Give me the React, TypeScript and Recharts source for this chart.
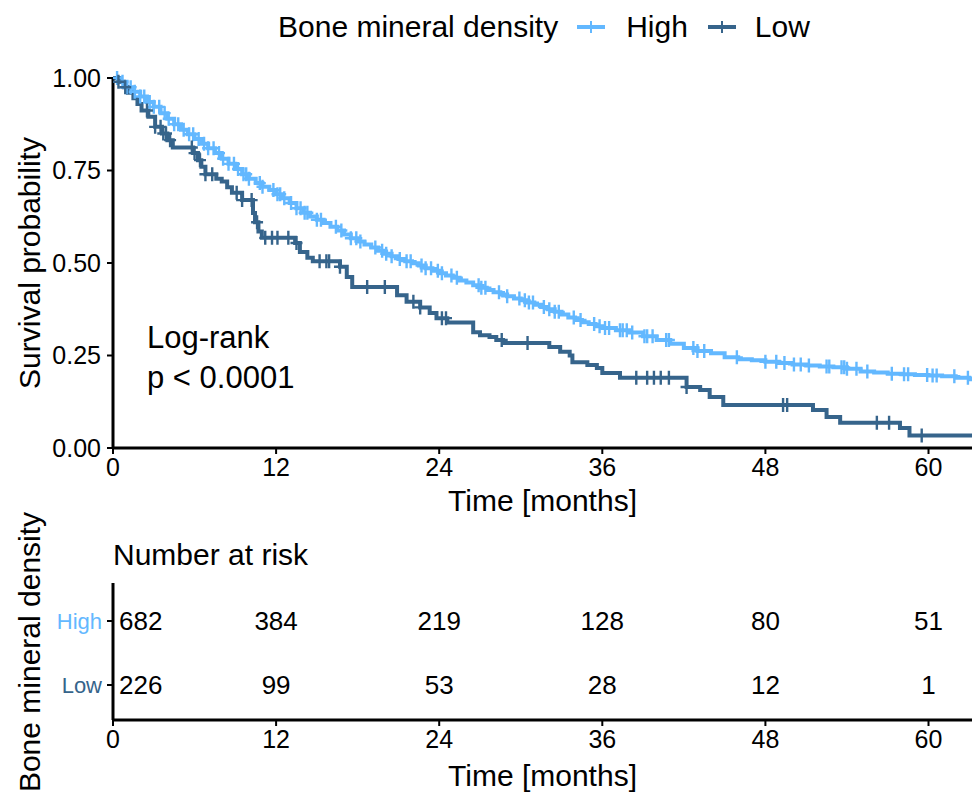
import React from 'react'
import { ComposedChart, Line, Scatter, XAxis, YAxis, Label } from 'recharts'

const HIGH_COLOR = '#63B8FF'
const LOW_COLOR = '#36648B'
const FONT = '"Liberation Sans", Arial, Helvetica, sans-serif'

const groups = ['High', 'Low']
const xTicks = [0, 12, 24, 36, 48, 60]
const yTicks = [0, 0.25, 0.5, 0.75, 1]
const X_MAX = 63.2

// Kaplan-Meier steps (months, survival)
const highTime = [
  0, 0.5, 1, 1.5, 2, 2.5, 3, 3.5, 4, 4.5, 5, 5.5, 6, 6.5, 7, 7.5, 8, 8.5, 9, 9.5,
  10, 10.5, 11, 11.5, 12, 12.5, 13, 13.5, 14, 14.5, 15, 15.5, 16, 16.5, 17, 17.5,
  18, 18.5, 19, 19.5, 20, 20.5, 21, 21.5, 22, 22.5, 23, 23.5, 24, 24.5, 25, 25.5,
  26, 26.5, 27, 27.5, 28, 28.5, 29, 29.5, 30, 30.5, 31, 31.5, 32, 32.5, 33, 33.5,
  34, 34.5, 35, 35.5, 36, 37, 38, 39, 40, 41, 42, 43, 44, 45, 46, 47, 48, 49, 50,
  51, 52, 53, 54, 55, 56, 57, 58, 59, 60, 61, 62, 63, 63.2,
]
const highSurv = [
  1.0, 0.99, 0.975, 0.963, 0.95, 0.935, 0.922, 0.905, 0.89, 0.875, 0.86, 0.848,
  0.835, 0.822, 0.81, 0.797, 0.782, 0.768, 0.754, 0.74, 0.728, 0.716, 0.706, 0.697,
  0.686, 0.675, 0.662, 0.648, 0.636, 0.626, 0.617, 0.608, 0.598, 0.588, 0.577,
  0.567, 0.558, 0.55, 0.542, 0.533, 0.525, 0.518, 0.511, 0.505, 0.499, 0.493,
  0.486, 0.479, 0.472, 0.466, 0.46, 0.453, 0.447, 0.44, 0.433, 0.427, 0.421, 0.415,
  0.41, 0.404, 0.399, 0.393, 0.387, 0.381, 0.375, 0.368, 0.361, 0.353, 0.346, 0.34,
  0.335, 0.329, 0.324, 0.318, 0.312, 0.302, 0.292, 0.282, 0.27, 0.262, 0.256,
  0.245, 0.24, 0.237, 0.233, 0.23, 0.226, 0.223, 0.22, 0.218, 0.214, 0.207, 0.204,
  0.201, 0.199, 0.197, 0.196, 0.194, 0.19, 0.186, 0.186,
]
const lowTime = [
  0, 0.4, 0.8, 1.1, 1.5, 1.8, 2.1, 2.6, 3.1, 3.6, 4.0, 4.4, 5.9, 6.25, 6.5, 6.8,
  7.6, 8.0, 8.4, 8.75, 9.5, 10.3, 10.45, 10.7, 10.95, 13.4, 13.75, 14.3, 14.7,
  16.7, 17.2, 17.6, 20.9, 21.6, 22.6, 23.3, 23.8, 24.6, 26.5, 27.0, 27.7, 28.2,
  28.7, 32.1, 32.9, 33.6, 33.8, 34.9, 35.6, 36.0, 37.3, 42.2, 43.2, 43.9, 44.9,
  51.5, 52.5, 53.5, 57.9, 58.6, 63.2,
]
const lowSurv = [
  1.0, 0.99, 0.975, 0.96, 0.945, 0.93, 0.912, 0.895, 0.868, 0.85, 0.832, 0.812,
  0.797, 0.778, 0.76, 0.74, 0.728, 0.72, 0.705, 0.69, 0.67, 0.635, 0.61, 0.585,
  0.568, 0.554, 0.53, 0.514, 0.505, 0.49, 0.462, 0.435, 0.413, 0.395, 0.38, 0.365,
  0.351, 0.339, 0.313, 0.305, 0.3, 0.292, 0.284, 0.273, 0.26, 0.25, 0.232, 0.224,
  0.216, 0.203, 0.19, 0.165, 0.157, 0.138, 0.116, 0.103, 0.084, 0.068, 0.054,
  0.034, 0.034,
]

// censoring times
const highCensor = [
  0.3, 0.7, 1.0, 1.3, 1.6, 2.0, 2.3, 2.7, 3.0, 3.4, 3.8, 4.1, 4.5, 4.8, 5.2, 5.6,
  5.9, 6.3, 6.7, 7.0, 7.4, 7.8, 8.1, 8.5, 8.9, 9.2, 9.6, 9.8, 10.0, 10.8, 11.0,
  11.8, 12.1, 12.3, 12.6, 13.1, 13.5, 13.8, 14.1, 14.3, 15.0, 15.3, 16.4, 16.8,
  17.5, 17.9, 18.2, 19.3, 19.8, 20.1, 20.5, 21.1, 21.6, 21.9, 22.7, 23.0, 23.4,
  23.9, 24.2, 24.9, 25.3, 26.9, 27.1, 27.4, 28.4, 29.0, 29.9, 30.3, 30.6, 30.9,
  31.7, 32.1, 32.5, 32.8, 33.9, 34.4, 35.4, 35.8, 36.2, 36.5, 37.3, 37.5, 37.8,
  38.2, 39.1, 39.3, 39.7, 40.7, 40.9, 42.7, 43.0, 43.5, 45.9, 48.0, 48.8, 49.4,
  50.1, 50.6, 51.2, 52.5, 52.7, 53.6, 53.8, 54.0, 54.7, 55.5, 57.3, 58.2, 58.5,
  59.9, 60.3, 60.6, 61.9, 62.9,
]
const lowCensor = [
  0.4, 0.9, 2.5, 3.1, 3.5, 3.7, 3.9, 4.2, 5.8, 6.0, 6.4, 6.8, 7.3, 9.1, 9.5, 10.2,
  10.6, 11.2, 11.7, 12.1, 12.9, 13.5, 15.2, 15.7, 15.9, 16.7, 18.7, 20.0, 22.1,
  22.6, 24.2, 24.5, 28.6, 30.5, 38.5, 39.3, 39.8, 40.3, 40.9, 42.2, 49.3, 49.6,
  56.2, 57.1, 59.5,
]

// number at risk table
const riskTimes = [0, 12, 24, 36, 48, 60]
const riskHigh = [682, 384, 219, 128, 80, 51]
const riskLow = [226, 99, 53, 28, 12, 1]

const toRows = (ts: number[], ss: number[]) => ts.map((t, i) => ({ t, s: ss[i] }))

// survival value of the step curve at time c
function stepAt(ts: number[], ss: number[], c: number) {
  let v = ss[0]
  for (let i = 0; i < ts.length; i++) if (ts[i] <= c) v = ss[i]
  return v
}

const highRows = toRows(highTime, highSurv)
const lowRows = toRows(lowTime, lowSurv)
const highCensorRows = highCensor.map((t) => ({ t, s: stepAt(highTime, highSurv, t) }))
const lowCensorRows = lowCensor.map((t) => ({ t, s: stepAt(lowTime, lowSurv, t) }))

const riskRows = [
  ...riskTimes.map((t, i) => ({ t, strata: groups[0], n: riskHigh[i] })),
  ...riskTimes.map((t, i) => ({ t, strata: groups[1], n: riskLow[i] })),
]

const PLOT_LEFT = 113
const PLOT_RIGHT = 972
const PLOT_MID = (PLOT_LEFT + PLOT_RIGHT) / 2
const RISK_TOP = 490 // page y where the risk table svg starts
const axisLine = { stroke: '#000', strokeWidth: 3 }
const tickLine = { stroke: '#000', strokeWidth: 2 }
const tickStyle = { fill: '#000', fontSize: 25, fontFamily: FONT }

const cross = (color: string) => (p: any) => (
  <path
    d={`M${p.cx - 6},${p.cy}H${p.cx + 6}M${p.cx},${p.cy - 7}V${p.cy + 7}`}
    stroke={color}
    strokeWidth={2.4}
    fill="none"
  />
)

const xTitle = (baseline: number) => () => (
  <text x={PLOT_MID} y={baseline} textAnchor="middle" fontSize={30} fontFamily={FONT} fill="#000">
    Time [months]
  </text>
)

const yTitle = (text: string, cy: number) => () => (
  <text
    x={29}
    y={cy}
    transform={`rotate(-90 29 ${cy})`}
    textAnchor="middle"
    dominantBaseline="central"
    fontSize={30}
    fontFamily={FONT}
    fill="#000"
  >
    {text}
  </text>
)

const riskNumber = (p: any) => {
  const first = p.payload.t === 0
  return (
    <text
      x={first ? p.cx + 6 : p.cx}
      y={p.cy}
      textAnchor={first ? 'start' : 'middle'}
      dominantBaseline="central"
      fontSize={26}
      fontFamily={FONT}
      fill="#000"
    >
      {p.payload.n}
    </text>
  )
}

const strataTick = (p: any) => (
  <text
    x={p.x}
    y={p.y}
    textAnchor="end"
    dominantBaseline="central"
    fontSize={22}
    fontFamily={FONT}
    fill={p.payload.value === groups[0] ? HIGH_COLOR : LOW_COLOR}
  >
    {p.payload.value}
  </text>
)

function LegendKey({ color }: { color: string }) {
  return (
    <svg width={28} height={30} style={{ display: 'block' }}>
      <line x1={0} y1={15} x2={28} y2={15} stroke={color} strokeWidth={4} />
      <line x1={14} y1={9} x2={14} y2={21} stroke={color} strokeWidth={2} />
    </svg>
  )
}

export default function App() {
  return (
    <div
      style={{
        position: 'absolute',
        left: 0,
        top: 0,
        width: 976,
        height: 794,
        background: '#fff',
        fontFamily: FONT,
      }}
    >
      {/* legend */}
      <div
        style={{
          position: 'absolute',
          top: 12,
          left: 278,
          display: 'flex',
          alignItems: 'center',
          fontSize: 30,
          lineHeight: '30px',
          whiteSpace: 'nowrap',
        }}
      >
        <span style={{ marginRight: 19 }}>Bone mineral density</span>
        <LegendKey color={HIGH_COLOR} />
        <span style={{ marginLeft: 21, marginRight: 20 }}>{groups[0]}</span>
        <LegendKey color={LOW_COLOR} />
        <span style={{ marginLeft: 19 }}>{groups[1]}</span>
      </div>

      <div style={{ position: 'absolute', left: 0, top: 0 }}>
        <ComposedChart width={976} height={520} margin={{ top: 78, right: 976 - PLOT_RIGHT, bottom: 0, left: 53 }}>
          <XAxis
            type="number"
            dataKey="t"
            domain={[0, X_MAX]}
            allowDataOverflow
            ticks={xTicks}
            height={72}
            axisLine={axisLine}
            tickLine={tickLine}
            tickSize={6}
            tickMargin={4}
            tick={tickStyle}
          >
            <Label content={xTitle(511)} />
          </XAxis>
          <YAxis
            type="number"
            dataKey="s"
            domain={[0, 1]}
            ticks={yTicks}
            width={60}
            axisLine={axisLine}
            tickLine={tickLine}
            tickSize={6}
            tickMargin={6}
            tick={tickStyle}
            tickFormatter={(v: number) => v.toFixed(2)}
          >
            <Label content={yTitle('Survival probability', 263)} />
          </YAxis>
          <Line data={highRows} dataKey="s" type="stepAfter" stroke={HIGH_COLOR} strokeWidth={4} dot={false} isAnimationActive={false} />
          <Line data={lowRows} dataKey="s" type="stepAfter" stroke={LOW_COLOR} strokeWidth={4} dot={false} isAnimationActive={false} />
          <Scatter data={highCensorRows} dataKey="s" shape={cross(HIGH_COLOR)} isAnimationActive={false} />
          <Scatter data={lowCensorRows} dataKey="s" shape={cross(LOW_COLOR)} isAnimationActive={false} />
        </ComposedChart>
      </div>

      {/* p-value annotation */}
      <div style={{ position: 'absolute', left: 147, top: 318, fontSize: 31, lineHeight: '40px', whiteSpace: 'nowrap' }}>
        Log-rank
        <br />
        p &lt; 0.0001
      </div>

      <div style={{ position: 'absolute', left: 0, top: RISK_TOP }}>
        <ComposedChart width={976} height={794 - RISK_TOP} data={riskRows} margin={{ top: 583 - RISK_TOP, right: 976 - PLOT_RIGHT, bottom: 0, left: 53 }}>
          <XAxis
            type="number"
            dataKey="t"
            domain={[0, X_MAX]}
            allowDataOverflow
            ticks={xTicks}
            height={74}
            axisLine={axisLine}
            tickLine={tickLine}
            tickSize={6}
            tickMargin={4}
            tick={tickStyle}
          >
            <Label content={xTitle(786 - RISK_TOP)} />
          </XAxis>
          <YAxis
            type="category"
            dataKey="strata"
            allowDuplicatedCategory={false}
            reversed
            padding={{ top: 38, bottom: 35 }}
            width={60}
            axisLine={axisLine}
            tickLine={tickLine}
            tickSize={6}
            tickMargin={5}
            tick={strataTick}
          >
            <Label content={yTitle('Bone mineral density', 652 - RISK_TOP)} />
          </YAxis>
          <Scatter dataKey="strata" shape={riskNumber} isAnimationActive={false} />
        </ComposedChart>
      </div>

      <div style={{ position: 'absolute', left: 113, top: 540, fontSize: 30, lineHeight: '30px', whiteSpace: 'nowrap' }}>
        Number at risk
      </div>
    </div>
  )
}
